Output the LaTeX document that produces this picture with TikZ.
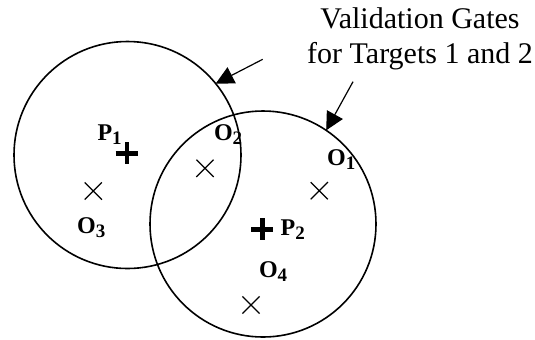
\documentclass[tikz,border=0pt]{standalone}
\usepackage{fontspec}
\setmainfont{Liberation Serif}
\usepackage{tikz}
\usetikzlibrary{arrows.meta,positioning,shapes.misc}
\newcommand{\labsub}[2]{#1\raisebox{-2pt}{\fontsize{9.5}{10}\selectfont #2}}

\begin{document}
\begin{tikzpicture}[x=0.5pt,y=-0.5pt,>={Triangle[length=9pt,width=9pt]},
  gate/.style={draw,circle,line width=.8pt,inner sep=0pt,outer sep=0pt,minimum size=113pt},
  obs/.style={draw,cross out,line width=.6pt,inner sep=0pt,minimum size=8pt},
  pred/.style={inner sep=0pt,outer sep=0pt,minimum size=11pt},
  lab/.style={inner sep=0pt,font=\fontsize{12}{14}\selectfont\bfseries}]
\useasboundingbox (0,0) rectangle (535,339);
% gates
\node[gate,minimum size=113.5pt] (g1) at (127.5,155) {};
\node[gate] (g2) at (263,224) {};
% predicted positions
\node[pred] (p1) at (126.7,153.3) {};
\node[pred] (p2) at (262.3,229.3) {};
\foreach \p in {p1,p2}
  \draw[line width=2.2pt] (\p.north)--(\p.south) (\p.west)--(\p.east);
% observations
\node[obs] (o1) at (319.3,190.7) {};
\node[obs] (o2) at (205,168.3) {};
\node[obs] (o3) at (93.3,191) {};
\node[obs] (o4) at (251,305) {};
% labels
\node[lab,above left=-1.3pt and -3.2pt of p1] (lp1) {\labsub{P}{1}};
\node[lab,right=3.5pt of p2] (lp2) {\labsub{P}{2}};
\node[lab,above right=6.3pt and -0.6pt of o1] (lo1) {\labsub{O}{1}};
\node[lab,above right=7.6pt and 0pt of o2] (lo2) {\labsub{O}{2}};
\node[lab,below=9pt of o3,xshift=-1pt] (lo3) {\labsub{O}{3}};
\node[lab,above right=7.5pt and -0.5pt of o4] (lo4) {\labsub{O}{4}};
% caption with arrows
\node[font=\fontsize{15}{17.5}\selectfont,align=center,inner sep=0pt,anchor=north] (title) at (420,7.5) {Validation Gates\\for Targets 1 and 2};
\coordinate (t1) at (262.7,59.3);
\coordinate (t2) at (353,81.7);
\draw[->,line width=.6pt] (t1)--(g1.39);
\draw[->,line width=.6pt] (t2)--(g2.56);
\end{tikzpicture}
\end{document}
